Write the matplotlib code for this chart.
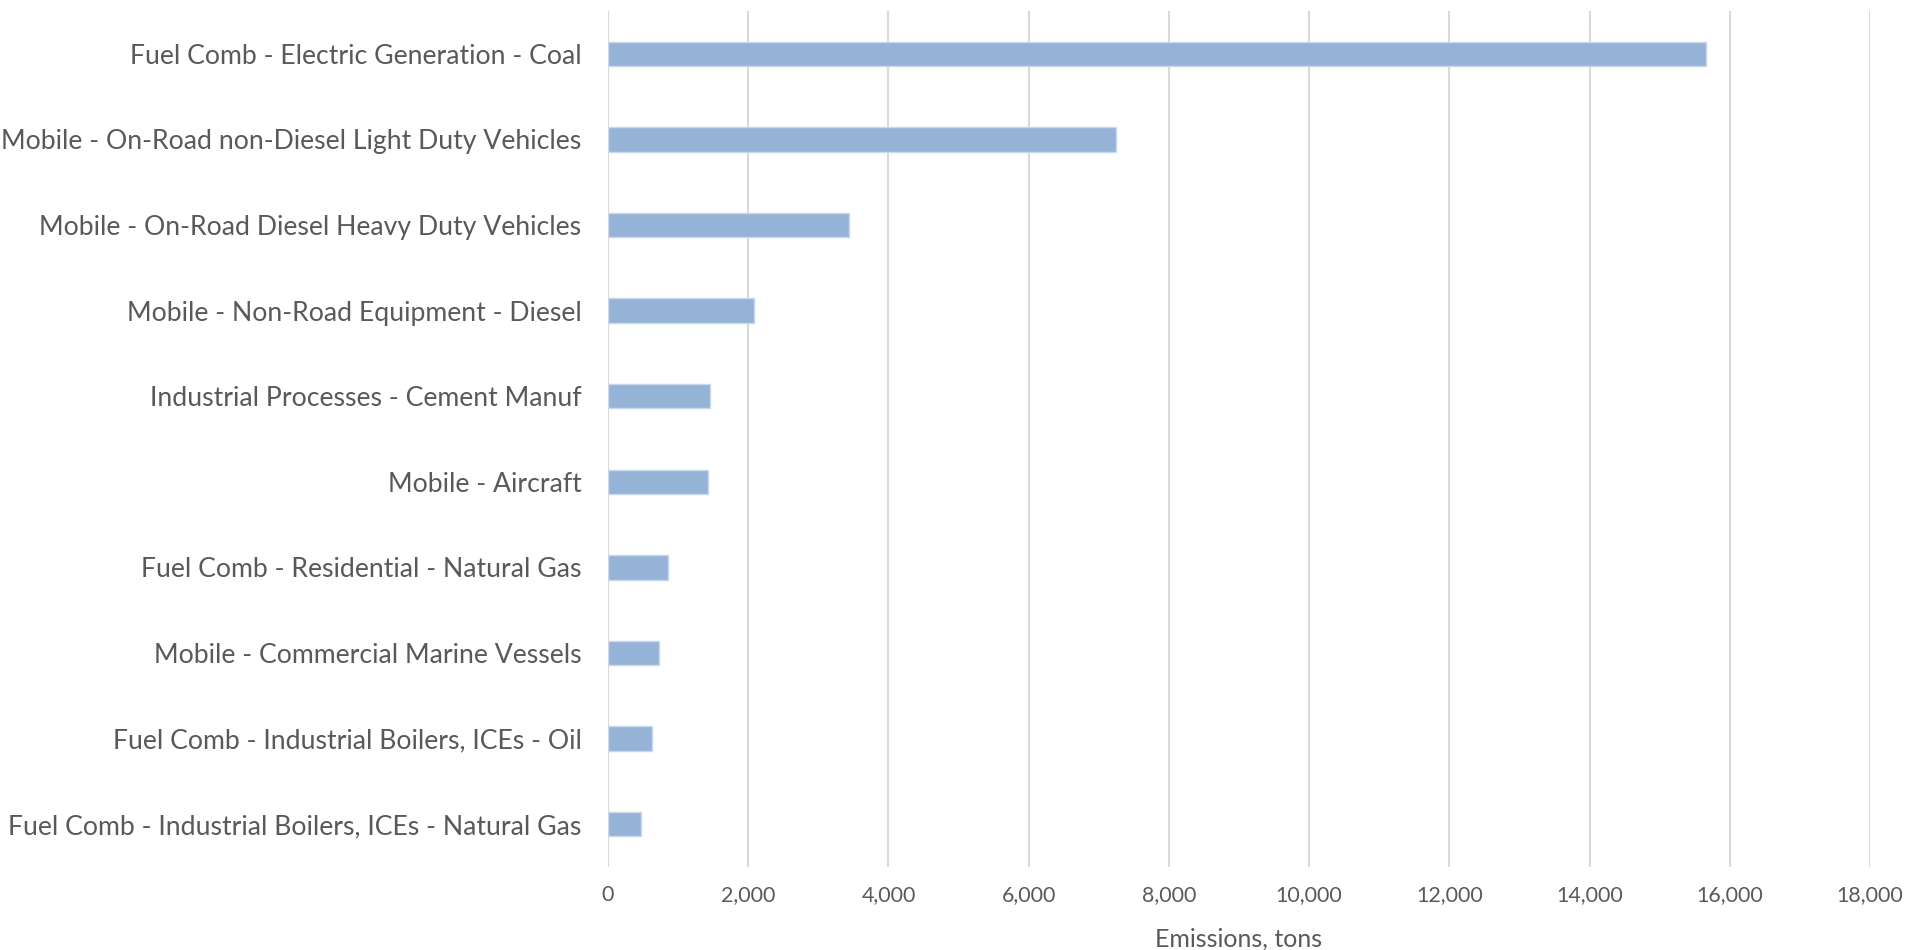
import matplotlib
matplotlib.use('Agg')
import matplotlib.pyplot as plt
from matplotlib.ticker import FuncFormatter

# data (tons)
sectors = [
    'Fuel Comb - Electric Generation - Coal',
    'Mobile - On-Road non-Diesel Light Duty Vehicles',
    'Mobile - On-Road Diesel Heavy Duty Vehicles',
    'Mobile - Non-Road Equipment - Diesel',
    'Industrial Processes - Cement Manuf',
    'Mobile - Aircraft',
    'Fuel Comb - Residential - Natural Gas',
    'Mobile - Commercial Marine Vessels',
    'Fuel Comb - Industrial Boilers, ICEs - Oil',
    'Fuel Comb - Industrial Boilers, ICEs - Natural Gas',
]
emissions = [15660, 7250, 3440, 2080, 1450, 1420, 850, 725, 625, 465]
x_ticks = [0, 2000, 4000, 6000, 8000, 10000, 12000, 14000, 16000, 18000]

plt.rcParams['font.family'] = ['Lato', 'DejaVu Sans']
text_col = '#595959'
grid_col = '#d9d9d9'

fig = plt.figure(figsize=(19.09, 9.5), dpi=100)
ax = fig.add_axes([608 / 1909, 1 - 867 / 950, (1870 - 608) / 1909, (867 - 11) / 950])

pos = list(range(len(sectors)))
ax.barh(pos, emissions, height=0.285, color='#95b3d7', edgecolor='#c9d9ea',
        linewidth=1, zorder=3)

ax.set_xlim(0, 18000)
ax.set_ylim(len(sectors) - 0.5, -0.5)
ax.set_xticks(x_ticks)
ax.xaxis.set_major_formatter(FuncFormatter(lambda v, p: f'{int(v):,}'))
ax.set_yticks(pos)
ax.set_yticklabels(sectors)

ax.grid(axis='x', color=grid_col, linewidth=1.5, zorder=0)
ax.grid(axis='y', visible=False)
for s in ax.spines.values():
    s.set_visible(False)

ax.tick_params(axis='y', length=0, pad=19, labelsize=19.2, labelcolor=text_col)
ax.tick_params(axis='x', length=0, pad=13, labelsize=15.4, labelcolor=text_col)
ax.set_xlabel('Emissions, tons', fontsize=18, color=text_col, labelpad=16)

fig.savefig('out.png', dpi=100)
